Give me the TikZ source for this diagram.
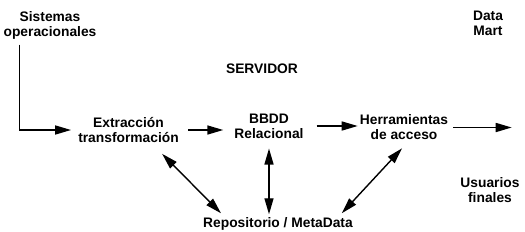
\documentclass[tikz,border=0pt]{standalone}
\usepackage{fontspec}
\setmainfont{Liberation Sans}
\usetikzlibrary{arrows.meta}
\tikzset{
  lbl/.style={font=\bfseries\fontsize{13.8}{15}\selectfont, align=center, inner sep=2pt},
  flow/.style={line width=1.6pt},
  link/.style={line width=1.4pt, <->}
}
\begin{document}
\begin{tikzpicture}[x=1pt, y=-1pt, >={Triangle[length=16pt,width=9pt]}]
    \useasboundingbox (0,0) rectangle (525,231);
    \node[lbl] (sis) at (50,25.5) {Sistemas\\operacionales};
    \node[lbl] (serv) at (262,69) {SERVIDOR};
    \node[lbl] (dm) at (488,23.5) {Data\\Mart};
    \node[lbl] (ext) at (128.5,130) {Extracción\\transformación};
    \node[lbl] (bbdd) at (269,126) {BBDD\\Relacional};
    \node[lbl] (herr) at (404,127.5) {Herramientas\\de acceso};
    \node[lbl] (usu) at (490,190) {Usuarios\\finales};
    \node[lbl] (repo) at (278,224.4) {Repositorio / MetaData};
    \draw[flow, ->, shorten >=5pt] ([xshift=18pt, yshift=-3pt]sis.south west) |- (ext.west);
    \draw[flow, ->, shorten <=7.5pt, shorten >=9pt] (ext.east) -- (ext.east -| bbdd.west);
    \draw[flow, ->, shorten <=11pt] (bbdd.east) -- (bbdd.east -| herr.west);
    \draw[flow, ->, shorten <=3pt, shorten >=10pt] (herr.east) -- (herr.east -| usu.east);
    \draw[link, shorten <=12.7pt, shorten >=3.5pt] (ext.-31) -- (repo.171);
    \draw[link, shorten <=8pt, shorten >=1.5pt] (bbdd.south) -- (bbdd.south |- repo.north);
    \draw[link, shorten <=8.2pt, shorten >=3.4pt] (herr.-76) -- (repo.8.3);
\end{tikzpicture}
\end{document}
